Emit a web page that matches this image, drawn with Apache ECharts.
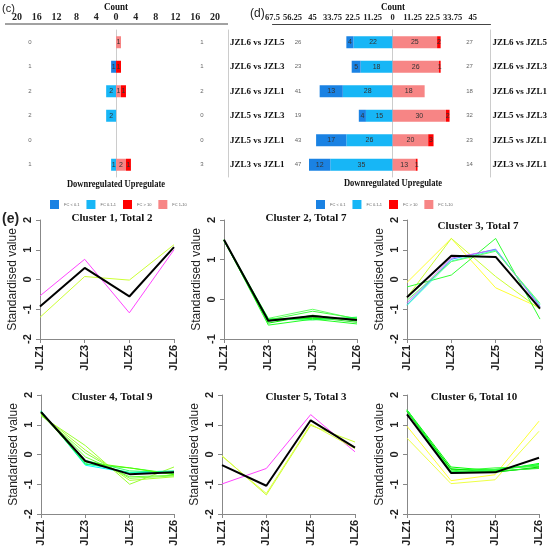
<!DOCTYPE html>
<html>
<head>
<meta charset="utf-8">
<script src="https://cdn.jsdelivr.net/npm/echarts@6/dist/echarts.min.js"></script>
<style>
html, body { margin: 0; padding: 0; background: #fff; }
#chart { width: 550px; height: 549px; }
</style>
</head>
<body>
<div id="chart"></div>
<script>
// comparisons shown in panels (c) and (d), top to bottom
const comparisons = ['JZL6 vs JZL5', 'JZL6 vs JZL3', 'JZL6 vs JZL1', 'JZL5 vs JZL3', 'JZL5 vs JZL1', 'JZL3 vs JZL1']
const fcNames = ['FC < 0.1', 'FC 0.1-1', 'FC > 10', 'FC 1-10']
const fcColors = ['#1a82e3', '#17b6f6', '#ff0000', '#f78585']

// panel (c) counts
const cFcBelow01 = [0, 1, 0, 0, 0, 0]
const cFc01to1 = [0, 0, 2, 2, 0, 1]
const cFcAbove10 = [0, 1, 1, 0, 0, 1]
const cFc1to10 = [1, 0, 1, 0, 0, 2]
const cDownTotal = [0, 1, 2, 2, 0, 1]
const cUpTotal = [1, 1, 2, 0, 0, 3]

// panel (d) counts
const dFcBelow01 = [4, 5, 13, 4, 17, 12]
const dFc01to1 = [22, 18, 28, 15, 26, 35]
const dFcAbove10 = [2, 1, 0, 2, 3, 1]
const dFc1to10 = [25, 26, 18, 30, 20, 13]
const dDownTotal = [26, 23, 41, 19, 43, 47]
const dUpTotal = [27, 27, 18, 32, 23, 14]

// panel (e) clusters
const samples = ['JLZ1', 'JLZ3', 'JLZ5', 'JLZ6']
const clusterTitles = ['Cluster 1, Total 2', 'Cluster 2, Total 7', 'Cluster 3, Total 7',
  'Cluster 4, Total 9', 'Cluster 5, Total 3', 'Cluster 6, Total 10']
const clusterMin = [-2, -1, -2, -2, -2, -2]
const clusterMax = [2, 2, 2, 2, 2, 2]

const cluster1 = [[-0.55, 0.68, -1.12, 1.0], [-1.27, 0.1, -0.02, 1.17]]
const cluster1Colors = ['#ff44ff', '#ccff33']
const cluster1Mean = [-0.91, 0.39, -0.57, 1.09]

const cluster2 = [
  [1.5, -0.48, -0.25, -0.5], [1.49, -0.52, -0.3, -0.48], [1.48, -0.6, -0.4, -0.55],
  [1.5, -0.65, -0.5, -0.62], [1.47, -0.5, -0.48, -0.5], [1.5, -0.55, -0.45, -0.58],
  [1.49, -0.5, -0.52, -0.45]
]
const cluster2Colors = ['#66ff66', '#44ff44', '#00ee00', '#22ff22', '#00ff00', '#33dd33', '#11ff44']
const cluster2Mean = [1.5, -0.54, -0.42, -0.52]

const cluster3 = [
  [-0.1, 1.38, -0.28, -0.95], [-0.6, 1.38, 0.1, -1.0], [-0.25, 0.15, 1.38, -1.33],
  [-0.85, 0.68, 1.02, -0.9], [-0.78, 0.72, 1.0, -0.92], [-0.87, 0.62, 0.98, -0.85],
  [-0.7, 0.6, 0.95, -0.8]
]
const cluster3Colors = ['#ffff33', '#ccff33', '#33ff33', '#3399ff', '#cc66ff', '#33ffcc', '#66ff66']
const cluster3Mean = [-0.6, 0.8, 0.76, -0.98]

const cluster4 = [
  [1.47, -0.36, -0.62, -0.58], [1.45, -0.33, -0.45, -0.65], [1.3, 0.3, -1.0, -0.42],
  [1.35, 0.15, -0.87, -0.75], [1.4, -0.08, -0.75, -0.7], [1.42, -0.2, -0.55, -0.6],
  [1.45, -0.3, -0.6, -0.55], [1.38, -0.25, -0.45, -0.68], [1.32, 0.05, -0.8, -0.72]
]
const cluster4Colors = ['#00ffff', '#33ff33', '#99ff33', '#aaff33', '#66ff33', '#33ff66', '#00ff99', '#55ff00', '#88ff44']
const cluster4Mean = [1.43, -0.22, -0.66, -0.6]

const cluster5 = [[-0.99, -0.47, 1.34, 0.09], [-0.04, -1.36, 0.98, 0.42], [-0.06, -1.31, 1.02, 0.2]]
const cluster5Colors = ['#ff44ff', '#ccff33', '#ddff44']
const cluster5Mean = [-0.36, -1.05, 1.15, 0.23]

const cluster6 = [
  [0.95, -0.88, -0.68, 1.12], [0.55, -0.98, -0.85, 0.78],
  [1.5, -0.42, -0.55, -0.3], [1.48, -0.5, -0.5, -0.35], [1.45, -0.55, -0.45, -0.4],
  [1.5, -0.6, -0.58, -0.45], [1.47, -0.62, -0.5, -0.38], [1.44, -0.48, -0.6, -0.42],
  [1.5, -0.58, -0.52, -0.33], [1.46, -0.64, -0.55, -0.47]
]
const cluster6Colors = ['#ffff33', '#eeff44', '#00ff00', '#22ee22', '#33ff33', '#11ff11', '#44ff44', '#00dd00', '#22ff44', '#33ee33']
const cluster6Mean = [1.35, -0.62, -0.6, -0.11]

const clusters = [cluster1, cluster2, cluster3, cluster4, cluster5, cluster6]
const clusterColors = [cluster1Colors, cluster2Colors, cluster3Colors, cluster4Colors, cluster5Colors, cluster6Colors]
const clusterMeans = [cluster1Mean, cluster2Mean, cluster3Mean, cluster4Mean, cluster5Mean, cluster6Mean]

const serif = 'Liberation Serif'
const sans = 'Liberation Sans'

let grids = [
  { left: 17, top: 30, width: 211, height: 147 },
  { left: 272.5, top: 30, width: 220.5, height: 147 }
]
let xAxes = []
let yAxes = []
let series = []

function barPanel (gi, min, max, interval, down1, down2, up1, up2, downTotal, upTotal, leftOff, rightOff) {
  xAxes.push({
    gridIndex: gi, type: 'value', position: 'top', offset: 6, min: min, max: max, interval: interval,
    axisLine: { show: gi === 1, onZero: false, lineStyle: { color: '#444', width: 1 } },
    axisTick: { show: false }, splitLine: { show: false },
    axisLabel: {
      margin: 2, showMaxLabel: false, color: '#222', fontFamily: serif, fontWeight: 'bold', fontSize: gi === 0 ? 10 : 8.5,
      formatter: v => String(Math.abs(v))
    }
  })
  let base = yAxes.length
  yAxes.push({
    gridIndex: gi, type: 'category', data: comparisons, inverse: true, position: 'right',
    axisLine: { onZero: false, lineStyle: { color: '#cccccc' } }, axisTick: { show: false },
    axisLabel: { margin: 2, color: '#111', fontFamily: serif, fontWeight: 'bold', fontSize: 9 }
  })
  yAxes.push({
    gridIndex: gi, type: 'category', data: comparisons, inverse: true, position: 'left',
    axisLine: { onZero: true, lineStyle: { color: '#cccccc' } }, axisTick: { show: false }, axisLabel: { show: false }
  })
  yAxes.push({
    gridIndex: gi, type: 'category', data: comparisons, inverse: true, position: 'left', offset: leftOff,
    axisLine: { show: false, onZero: false }, axisTick: { show: false },
    axisLabel: { margin: 0, align: 'center', fontSize: 6, color: '#666', formatter: (v, i) => String(downTotal[i]) }
  })
  yAxes.push({
    gridIndex: gi, type: 'category', data: comparisons, inverse: true, position: 'right', offset: rightOff,
    axisLine: { show: false, onZero: false }, axisTick: { show: false },
    axisLabel: { margin: 0, align: 'center', fontSize: 6, color: '#666', formatter: (v, i) => String(upTotal[i]) }
  })
  // nearest to zero first in each direction
  let parts = [
    [fcNames[1], fcColors[1], down2.map(v => -v)],
    [fcNames[0], fcColors[0], down1.map(v => -v)],
    [fcNames[3], fcColors[3], up2],
    [fcNames[2], fcColors[2], up1]
  ]
  parts.forEach(p => {
    series.push({
      name: p[0], type: 'bar', stack: 'fc' + gi, xAxisIndex: gi, yAxisIndex: base,
      data: p[2], barWidth: 12, itemStyle: { color: p[1] },
      label: {
        show: true, position: 'inside', fontSize: 7, color: '#333',
        formatter: d => d.value ? String(Math.abs(d.value)) : ''
      }
    })
  })
}

barPanel(0, -20, 22.6, 4, cFcBelow01, cFc01to1, cFcAbove10, cFc1to10, cDownTotal, cUpTotal, -13, -26)
barPanel(1, -67.5, 55, 11.25, dFcBelow01, dFc01to1, dFcAbove10, dFc1to10, dDownTotal, dUpTotal, -25.5, -21)

const lineGrids = [
  { left: 40, top: 220, width: 134, height: 119 },
  { left: 224, top: 220, width: 133, height: 119 },
  { left: 407, top: 220, width: 133, height: 119 },
  { left: 41, top: 395, width: 133, height: 119 },
  { left: 222, top: 395, width: 133, height: 119 },
  { left: 407, top: 395, width: 132, height: 119 }
]
const titlePos = [[112, 213], [306, 213], [478, 221], [112, 392], [306, 392], [474, 392]]

lineGrids.forEach((g, k) => {
  let gi = grids.length
  grids.push(g)
  let xi = xAxes.length
  let yi = yAxes.length
  xAxes.push({
    gridIndex: gi, type: 'category', data: samples, boundaryGap: false,
    axisLine: { onZero: false, lineStyle: { color: '#888' } },
    axisTick: { alignWithLabel: true, length: 4, lineStyle: { color: '#888' } },
    axisLabel: { rotate: 90, margin: 6, interval: 0, color: '#222', fontFamily: sans, fontWeight: 'bold', fontSize: 11 }
  })
  yAxes.push({
    gridIndex: gi, type: 'value', min: clusterMin[k], max: clusterMax[k], interval: 1,
    name: 'Standardised value', nameLocation: 'middle', nameRotate: 90, nameGap: 21,
    nameTextStyle: { fontFamily: sans, fontSize: 12, color: '#222' },
    axisLine: { show: true, onZero: false, lineStyle: { color: '#888' } },
    axisTick: { show: true, length: 4, lineStyle: { color: '#888' } },
    splitLine: { show: false },
    axisLabel: { rotate: 90, margin: 7, color: '#222', fontFamily: sans, fontWeight: 'bold', fontSize: 11 }
  })
  clusters[k].forEach((vals, j) => {
    series.push({
      type: 'line', xAxisIndex: xi, yAxisIndex: yi, data: vals, symbol: 'none', silent: true,
      lineStyle: { width: 1, color: clusterColors[k][j] }
    })
  })
  series.push({
    type: 'line', xAxisIndex: xi, yAxisIndex: yi, data: clusterMeans[k], symbol: 'none', silent: true,
    lineStyle: { width: 2, color: '#000' }
  })
})

let graphics = [
  { type: 'line', shape: { x1: 5, y1: 24, x2: 228, y2: 24 }, style: { stroke: '#444', lineWidth: 1 } },
  { type: 'text', x: 2, y: 3, style: { text: '(c)', font: '11px Liberation Sans', fill: '#222' } },
  { type: 'text', x: 250, y: 8, style: { text: '(d)', font: '12px Liberation Sans', fill: '#222' } },
  { type: 'text', x: 2, y: 212, style: { text: '(e)', font: 'bold 14px Liberation Sans', fill: '#222' } },
  { type: 'text', x: 116, y: 2, scaleX: 0.82, style: { text: 'Count', textAlign: 'center', font: 'bold 11px Liberation Serif', fill: '#111' } },
  { type: 'text', x: 393, y: 2, scaleX: 0.82, style: { text: 'Count', textAlign: 'center', font: 'bold 11px Liberation Serif', fill: '#111' } },
  { type: 'text', x: 116, y: 179, scaleX: 0.85, style: { text: 'Downregulated Upregulate', textAlign: 'center', font: 'bold 10px Liberation Serif', fill: '#111' } },
  { type: 'text', x: 393, y: 178, scaleX: 0.85, style: { text: 'Downregulated Upregulate', textAlign: 'center', font: 'bold 10px Liberation Serif', fill: '#111' } }
]
clusterTitles.forEach((t, k) => {
  graphics.push({
    type: 'text', x: titlePos[k][0], y: titlePos[k][1],
    style: { text: t, textAlign: 'center', font: 'bold 11px Liberation Serif', fill: '#111' }
  })
})

const legendBase = {
  itemWidth: 9, itemHeight: 9, itemGap: 7, icon: 'rect', padding: 0, selectedMode: false,
  data: fcNames, textStyle: { fontSize: 4, color: '#666', fontFamily: sans }
}

const chart = echarts.init(document.getElementById('chart'))
chart.setOption({
  animation: false,
  backgroundColor: '#fff',
  legend: [
    Object.assign({ left: 50, top: 200 }, legendBase),
    Object.assign({ left: 316, top: 200 }, legendBase)
  ],
  grid: grids,
  xAxis: xAxes,
  yAxis: yAxes,
  series: series,
  graphic: graphics
})
</script>
</body>
</html>
